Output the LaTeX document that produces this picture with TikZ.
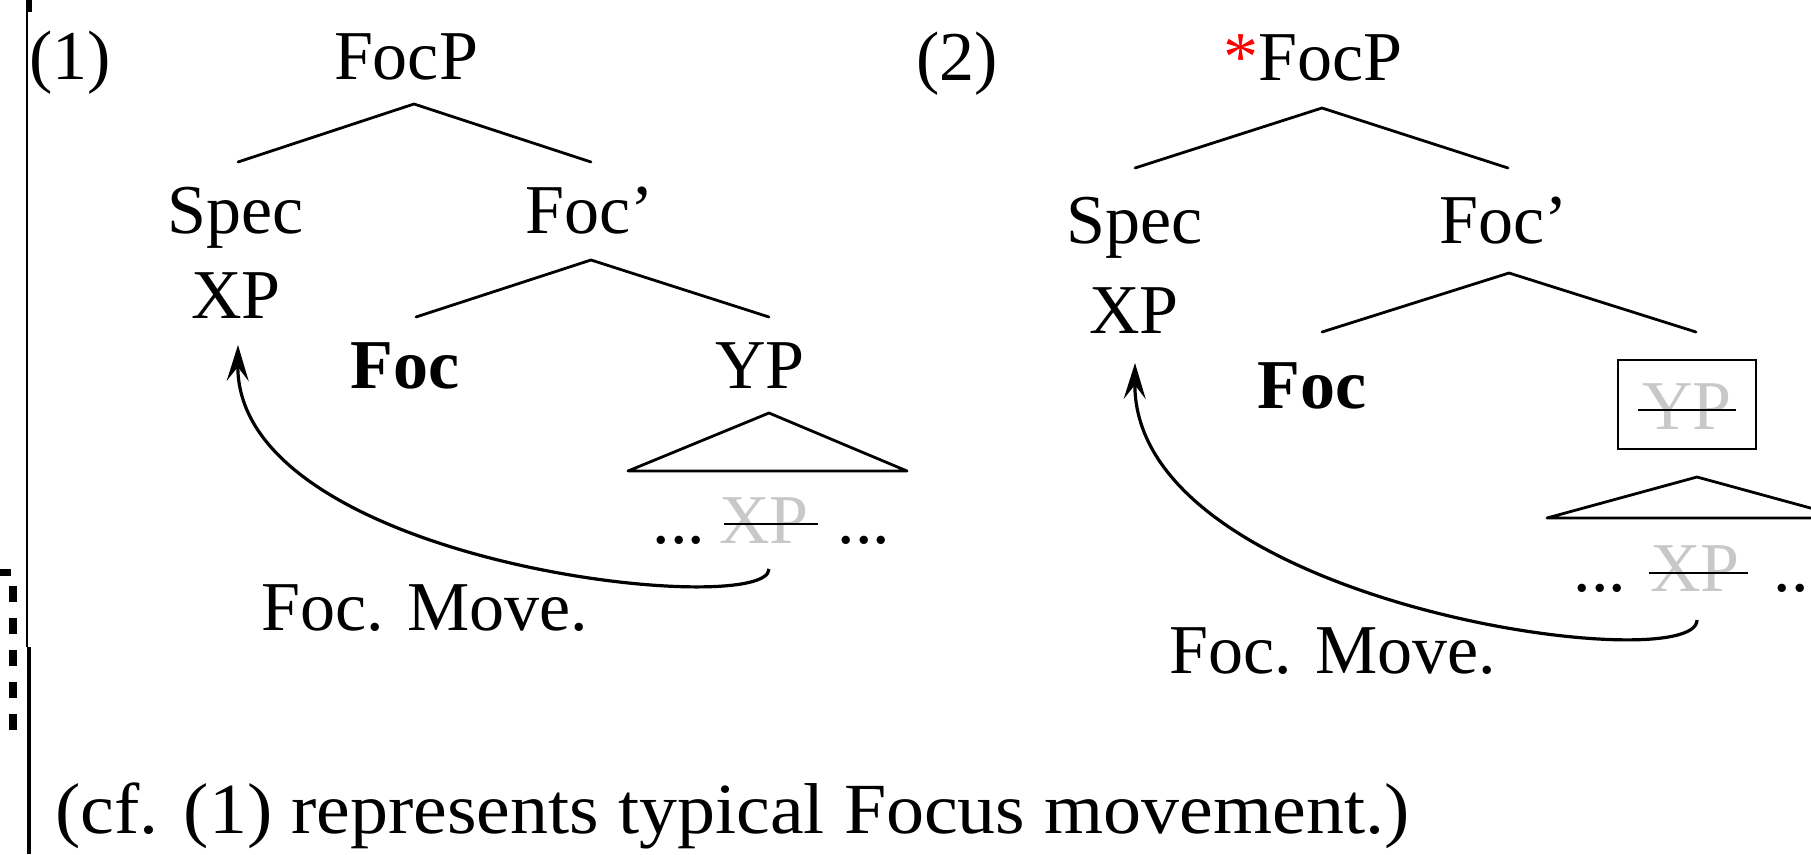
\documentclass[tikz,border=0pt]{standalone}
\usepackage{fontspec}
\setmainfont{Liberation Serif}
\newfontfamily\notefont{Liberation Serif}[FakeStretch=1.055]
\usetikzlibrary{arrows.meta}
\definecolor{struck}{RGB}{200,200,200}
\definecolor{starred}{RGB}{255,0,0}
\begin{document}
\begin{tikzpicture}[x=1pt,y=-1pt,
  lbl/.style={inner sep=0pt, anchor=base, font=\fontsize{70}{84}\selectfont},
  lblb/.style={inner sep=0pt, anchor=base, font=\fontsize{70}{84}\selectfont\bfseries},
  ghost/.style={lbl, text=struck},
  branch/.style={line width=2.8pt, line cap=round, line join=round},
  strike/.style={line width=2.8pt},
  move/.style={line width=3.2pt, -{Stealth[length=36pt,width=22pt,inset=14pt]}}
]
\useasboundingbox (0,0) rectangle (1811,854);
\clip (0,0) rectangle (1811,854);

% margin rules on the left
\fill (26,0) rectangle (32,12);
\draw[line width=2pt] (27,0) -- (27,647);
\draw[line width=4pt] (29,647) -- (29,854);
\draw[line width=7pt] (0,572.5) -- (11,572.5);
\draw[line width=8pt, dash pattern=on 16pt off 16pt] (13,586) -- (13,730);

% ---------- tree (1) ----------
\node[lbl] (n1) at (70,79) {(1)};
\node[lbl] (top1) at (406,79) {FocP};
\node[lbl] (spec1) at (236,233) {Spec};
\node[lbl] (bar1) at (590,233) {Foc’};
\node[lbl] (xp1) at (236,318) {XP};
\node[lblb] (head1) at (405,388) {Foc};
\node[lbl] (yp1) at (760,388) {YP};
\node[lbl] (dl1) at (679,543) {...};
\node[ghost] (gx1) at (764,543) {XP};
\node[lbl] (dr1) at (864,543) {...};
\node[lbl] (mv1) at (425,630) {Foc. Move.};

\coordinate (a1) at (414,104);
\coordinate (a1l) at (238,162);
\coordinate (a1r) at (591,162);
\coordinate (b1) at (591,260);
\coordinate (b1l) at (416,317);
\coordinate (b1r) at (769,317);
\coordinate (t1) at (769,413);
\coordinate (t1l) at (628,471);
\coordinate (t1r) at (907,471);
\draw[branch] (a1l) -- (a1) -- (a1r);
\draw[branch] (b1l) -- (b1) -- (b1r);
\draw[branch] (t1) -- (t1l) -- (t1r) -- cycle;
\draw[strike] (724,524) -- (818,524);

\coordinate (s1) at (769,569);
\coordinate (e1) at (238,345);
\draw[move] (s1) .. controls (769,620) and (236,565) .. (e1);

% ---------- tree (2) ----------
\node[lbl] (n2) at (957,80) {(2)};
\node[lbl] (top2) at (1313,80) {\textcolor{starred}{*}FocP};
\node[lbl] (spec2) at (1135,243) {Spec};
\node[lbl] (bar2) at (1504,243) {Foc’};
\node[lbl] (xp2) at (1134,333) {XP};
\node[lblb] (head2) at (1312,408) {Foc};
\node[draw, line width=2.6pt, minimum width=138pt, minimum height=89pt, inner sep=0pt] (ypbox) at (1687,404.5) {};
\node[ghost] (yp2) at (1687,429) {YP};
\node[lbl] (dl2) at (1600,591) {...};
\node[ghost] (gx2) at (1695,591) {XP};
\node[lbl] (dr2) at (1800,591) {...};
\node[lbl] (mv2) at (1333,673) {Foc. Move.};

\coordinate (a2) at (1322,108);
\coordinate (a2l) at (1135,168);
\coordinate (a2r) at (1508,168);
\coordinate (b2) at (1509,273);
\coordinate (b2l) at (1322,332);
\coordinate (b2r) at (1696,332);
\coordinate (t2) at (1697,477);
\coordinate (t2l) at (1547,518);
\coordinate (t2r) at (1847,518);
\draw[branch] (a2l) -- (a2) -- (a2r);
\draw[branch] (b2l) -- (b2) -- (b2r);
\draw[branch] (t2) -- (t2l) -- (t2r) -- cycle;
\draw[strike] (1638,410) -- (1736,410);
\draw[strike] (1649,573) -- (1748,573);

\coordinate (s2) at (1697,620);
\coordinate (e2) at (1135,363);
\draw[move] (s2) .. controls (1697,680) and (1133,605) .. (e2);

% ---------- remark ----------
\node[inner sep=0pt, anchor=base west, font=\notefont\fontsize{72}{86}\selectfont] (note) at (55,833) {(cf. (1) represents typical Focus movement.)};
\end{tikzpicture}
\end{document}
